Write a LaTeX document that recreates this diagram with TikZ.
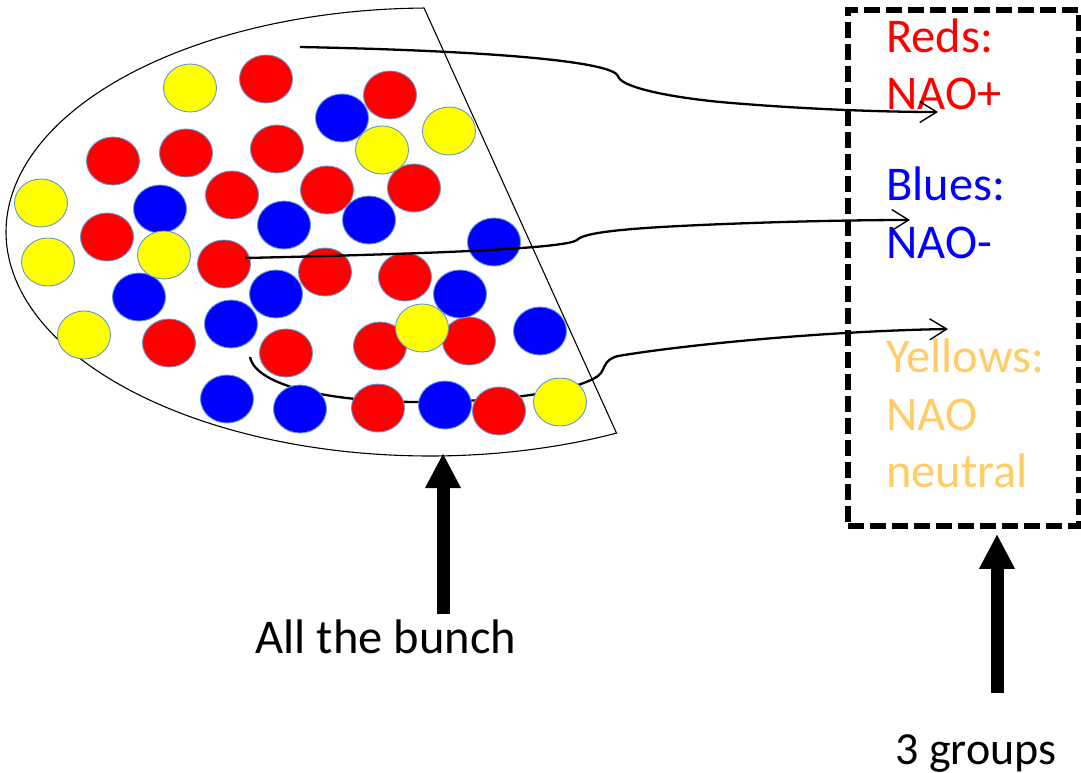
\documentclass[tikz,border=0pt]{standalone}
\usepackage{fontspec}
\setmainfont{Carlito}
\usetikzlibrary{arrows.meta,shapes.geometric}
\definecolor{ballred}{RGB}{255,0,0}
\definecolor{ballblue}{RGB}{0,0,255}
\definecolor{ballyellow}{RGB}{255,255,0}
\definecolor{ballrim}{RGB}{100,150,210}
\definecolor{goldtext}{RGB}{255,204,102}
\begin{document}
\begin{tikzpicture}[x=1pt,y=-1pt,
  ball/.style={ellipse,minimum width=53pt,minimum height=48pt,inner sep=0pt,
    draw=ballrim,line width=0.9pt},
  rb/.style={ball,fill=ballred},
  bb/.style={ball,fill=ballblue},
  yb/.style={ball,fill=ballyellow},
  link/.style={line width=2.3pt,
    -{Straight Barb[length=17pt,width=21pt,line width=1.4pt]}},
  bigarrow/.style={line width=13pt,
    -{Triangle[length=34pt,width=36pt,line width=0pt]}},
  grouptext/.style={font=\fontsize{48.5}{58}\selectfont,inner sep=0pt,anchor=base west},
  caption/.style={font=\fontsize{48.5}{58}\selectfont,inner sep=0pt,anchor=base}]
\useasboundingbox (0,0) rectangle (1081,773);

% the bunch: a sector cut from an ellipse
\draw[line width=1.1pt,line join=miter]
  plot[domain=63.9:269.2,samples=120,smooth] ({430+424*cos(\x)},{232+224*sin(\x)}) -- cycle;

% route to the yellows (runs behind the balls)
\coordinate (yelfrom) at (250,357);
\coordinate (yelto) at (948,329);
\draw[link] (yelfrom) .. controls (256,386) and (330,402) .. (420,402)
  .. controls (500,402) and (575,392) .. (598,376)
  .. controls (606,370) and (602,360) .. (618,356)
  .. controls (690,344) and (830,331) .. (yelto);

% red balls
\node[rb] (r1)  at (266,79)  {};
\node[rb] (r2)  at (390,95)  {};
\node[rb] (r3)  at (113,161) {};
\node[rb] (r4)  at (186,153) {};
\node[rb] (r5)  at (277,149) {};
\node[rb] (r6)  at (232,195) {};
\node[rb] (r7)  at (327,190) {};
\node[rb] (r8)  at (414,188) {};
\node[rb] (r9)  at (107,237) {};
\node[rb] (r10) at (224,264) {};
\node[rb] (r11) at (325,272) {};
\node[rb] (r12) at (405,277) {};
\node[rb] (r13) at (169,343) {};
\node[rb] (r14) at (286,353) {};
\node[rb] (r15) at (380,346) {};
\node[rb] (r16) at (469,341) {};
\node[rb] (r17) at (378,408) {};

% blue balls
\node[bb] (b1)  at (342,118) {};
\node[bb] (b2)  at (160,209) {};
\node[bb] (b3)  at (284,225) {};
\node[bb] (b4)  at (369,220) {};
\node[bb] (b5)  at (494,242) {};
\node[bb] (b6)  at (139,297) {};
\node[bb] (b7)  at (276,294) {};
\node[bb] (b8)  at (460,294) {};
\node[bb] (b9)  at (231,324) {};
\node[bb] (b10) at (540,331) {};
\node[bb] (b11) at (227,399) {};
\node[bb] (b12) at (300,409) {};
\node[bb] (b13) at (445,405) {};
\node[rb] (r18) at (499,411) {};

% yellow balls
\node[yb] (y1) at (190,88)  {};
\node[yb] (y2) at (449,131) {};
\node[yb] (y3) at (382,150) {};
\node[yb] (y4) at (41,203)  {};
\node[yb] (y5) at (48,262)  {};
\node[yb] (y6) at (164,255) {};
\node[yb] (y7) at (84,335)  {};
\node[yb] (y8) at (422,328) {};
\node[yb] (y9) at (560,402) {};

% the three groups
\node[draw,line width=5.5pt,dash pattern=on 16pt off 6pt,line join=miter,
  minimum width=231pt,minimum height=516pt,inner sep=0pt] (groups) at (963.5,268) {};
\node[grouptext,text=ballred] (redhead) at (886,53)  {Reds:};
\node[grouptext,text=ballred] (redname) at (886,110) {NAO+};
\node[grouptext,text=ballblue] (bluehead) at (886,200) {Blues:};
\node[grouptext,text=ballblue] (bluename) at (886,258) {NAO-};
\node[grouptext,text=goldtext] (yelhead) at (886,372) {Yellows:};
\node[grouptext,text=goldtext] (yelname) at (886,430) {NAO};
\node[grouptext,text=goldtext] (yelword) at (886,487) {neutral};

% routes to the reds and the blues
\coordinate (redfrom) at (300,47);
\coordinate (redto) at (938,112);
\draw[link] (redfrom) .. controls (500,51) and (612,62) .. (618,76)
  .. controls (620,86) and (660,96) .. (720,102)
  .. controls (800,109) and (880,112) .. (redto);
\coordinate (bluefrom) at (245,258);
\coordinate (blueto) at (910,220);
\draw[link] (bluefrom) .. controls (420,254) and (565,249) .. (577,240)
  .. controls (583,233) and (620,229) .. (680,226)
  .. controls (760,222) and (850,220) .. (blueto);

% captions with their pointers
\node[caption] (bunchlabel) at (386,653) {All the bunch};
\coordinate (bunchtail) at (443,614);
\coordinate (bunchtip) at (443,454);
\draw[bigarrow] (bunchtail) -- (bunchtip);

\node[caption,font=\fontsize{46}{55}\selectfont] (groupslabel) at (976,764) {3 groups};
\coordinate (groupstail) at (997,693);
\draw[bigarrow] (groupstail) -- ([yshift=-6pt]groupstail |- groups.south);
\end{tikzpicture}
\end{document}
